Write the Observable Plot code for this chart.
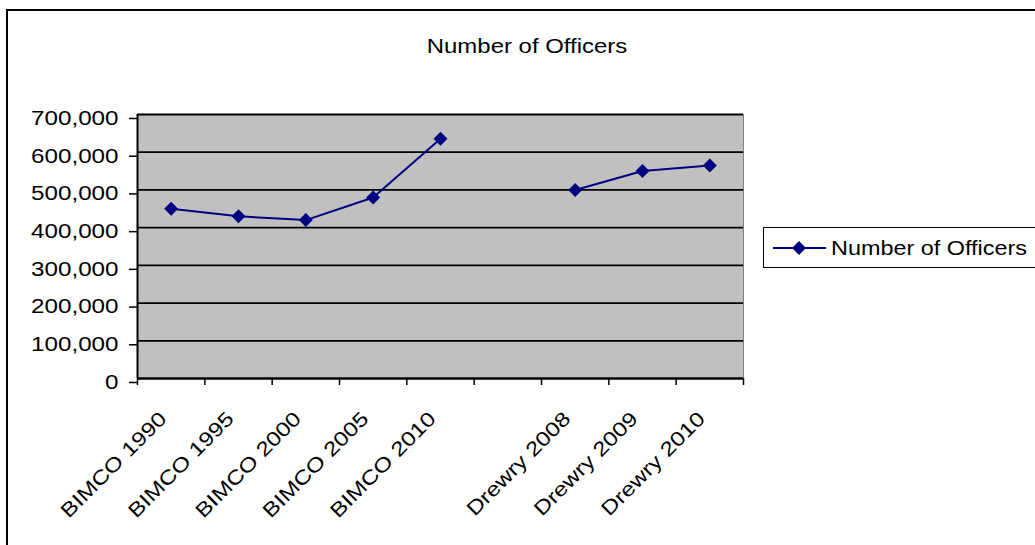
<!DOCTYPE html>
<html><head><meta charset="utf-8">
<script src="https://cdn.jsdelivr.net/npm/d3@7"></script>
<script src="https://cdn.jsdelivr.net/npm/@observablehq/plot@0.6"></script>
<style>
html,body{margin:0;padding:0;background:#fff;overflow:hidden;width:1035px;height:545px;}
#wrap{position:relative;width:1035px;height:545px;font-family:"Liberation Sans",Arial,sans-serif;color:#000;}
#frame{position:absolute;left:6px;top:9px;width:1100px;height:600px;border:2px solid #000;box-sizing:border-box;}
#chart{position:absolute;left:0;top:0;line-height:0;}
#chart svg{display:block;}
#title{position:absolute;left:527px;top:35px;font-size:21px;line-height:21px;white-space:nowrap;transform:translateX(-50%) scaleX(1.14);transform-origin:50% 50%;}
#legend{position:absolute;left:763px;top:227px;width:300px;height:41px;border:1.5px solid #000;box-sizing:border-box;background:#fff;}
#legend svg{position:absolute;left:7px;top:10px;}
#legend .lt{position:absolute;left:67px;top:10px;font-size:20px;line-height:20px;white-space:nowrap;transform:scaleX(1.17);transform-origin:0 50%;}
</style></head>
<body>
<div id="wrap">
  <div id="frame"></div>
  <div id="chart"></div>
  <div id="title"></div>
  <div id="legend">
    <svg width="60" height="20"><line x1="2" y1="10" x2="55" y2="10" stroke="#000080" stroke-width="2"/><path d="M28,3L35,10L28,17L21,10Z" fill="#000080"/></svg>
    <div class="lt"></div>
  </div>
</div>
<script>
const chartTitle = "Number of Officers";
const seriesName = "Number of Officers";
const categories = ["BIMCO 1990","BIMCO 1995","BIMCO 2000","BIMCO 2005","BIMCO 2010","","Drewry 2008","Drewry 2009","Drewry 2010"];
const officers = [450000, 430000, 420000, 480000, 636000, null, 500000, 550000, 565000];
const yTicks = [0, 100000, 200000, 300000, 400000, 500000, 600000, 700000];

document.getElementById("title").textContent = chartTitle;
document.querySelector("#legend .lt").textContent = seriesName;

const data = categories.map((c, i) => ({i, c, v: officers[i]}));
const valid = data.filter(d => d.v != null);
const boundaries = d3.range(categories.length + 1);
const centers = data.filter(d => d.c !== "").map(d => d.i + 0.5);

const svg = Plot.plot({
  width: 1035, height: 545,
  marginLeft: 137, marginRight: 292, marginTop: 114, marginBottom: 167,
  style: {fontFamily: "'Liberation Sans', Arial, sans-serif", fontSize: "20px", color: "#000", background: "transparent", overflow: "visible"},
  x: {type: "linear", domain: [0, categories.length]},
  y: {domain: [0, 700000]},
  marks: [
    Plot.frame({fill: "#C0C0C0", stroke: "#808080"}),
    Plot.gridY(yTicks, {stroke: "#000", strokeOpacity: 1, strokeWidth: 1.8}),
    Plot.axisY({ticks: yTicks, tickSize: 8, tickPadding: 11, tickFormat: d3.format(","), dy: 4, label: null, strokeWidth: 1.5}),
    Plot.ruleX([0], {stroke: "#000", strokeWidth: 2}),
    Plot.ruleY([0], {stroke: "#000", strokeWidth: 2}),
    Plot.axisX({ticks: boundaries, tickSize: 7, tickFormat: () => "", label: null, strokeWidth: 1.5}),
    Plot.axisX({ticks: centers, tickSize: 0, tickPadding: 37, dx: -8, tickRotate: -45, tickFormat: d => categories[Math.floor(d)], label: null}),
    Plot.line(data, {x: d => d.i + 0.5, y: "v", stroke: "#000080", strokeWidth: 2}),
    Plot.dot(valid, {x: d => d.i + 0.5, y: "v", symbol: "diamond2", r: 6.3, fill: "#000080", stroke: "none"})
  ]
});
document.getElementById("chart").appendChild(svg);
svg.querySelectorAll("text").forEach(t => {
  const L = t.getComputedTextLength();
  if (L > 0) {
    t.setAttribute("textLength", (L * 1.21).toFixed(2));
    t.setAttribute("lengthAdjust", "spacingAndGlyphs");
  }
});
</script>
</body></html>
